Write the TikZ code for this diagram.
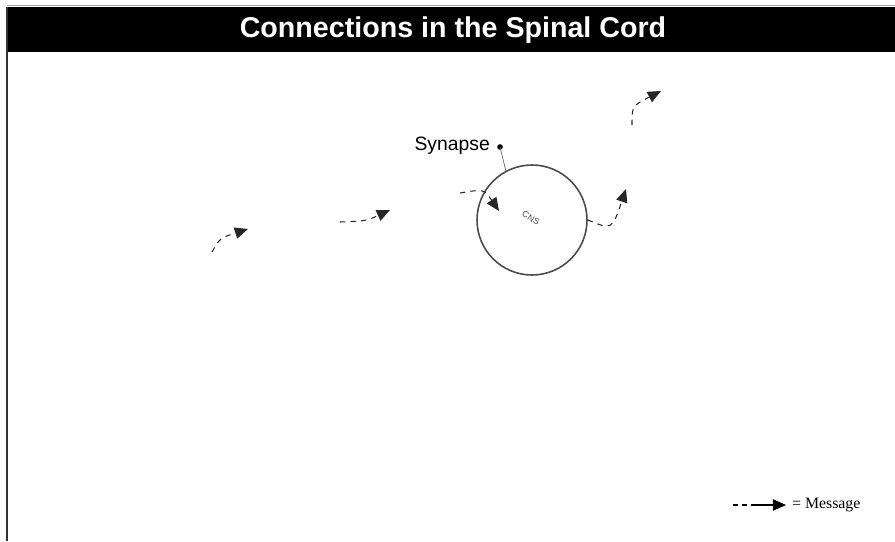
\documentclass[tikz,border=0pt]{standalone}
\usepackage{fontspec}
\setmainfont{Liberation Serif}
\setsansfont{Liberation Sans}
\usetikzlibrary{arrows.meta,positioning}
\begin{document}
\begin{tikzpicture}[x=0.02cm, y=-0.02cm, >={Triangle[length=7.5pt,width=6.5pt]},
  msg/.style={->, dashed, semithick, black!85},
  cord/.style={circle, draw=black!70, line width=0.9pt, minimum size=2.2cm, inner sep=0pt}]
\useasboundingbox (0,0) rectangle (895,541);
% Titelbalken und Rand
\fill[black] (7,7) rectangle (895,52);
\draw[black!35] (7,5.5) -- (895,5.5);
\draw[line width=0.9pt, black!80] (7,7) -- (7,541);
\node[text=white, font=\sffamily\bfseries\fontsize{16.3}{18}\selectfont] (title) at (453,30) {Connections in the Spinal Cord};
% Rueckenmark
\node[cord] (cns) at (532,220) {};
\node[font=\sffamily\fontsize{5}{6}\selectfont, text=black!70, rotate=-30] (cnslbl) at (531,218) {CNS};
\node[font=\sffamily\fontsize{11}{12}\selectfont, anchor=east] (syn) at (496,146) {Synapse};
\fill (syn.east) ++(4,1) coordinate (syndot) circle (1.6pt);
\draw[black!60, thin] (syndot) -- (cns.118);
% Botschaften
\coordinate (m1a) at (212,252); \coordinate (m1b) at (248,229);
\coordinate (m2a) at (340,222); \coordinate (m2b) at (390,210);
\coordinate (m3a) at (460,193); \coordinate (m3b) at (499,211);
\coordinate (m4b) at (626,189);
\coordinate (m5a) at (632,125); \coordinate (m5b) at (661,91);
\draw[msg] (m1a) .. controls (220,238) .. (m1b);
\draw[msg] (m2a) .. controls (366,221) .. (m2b);
\draw[msg] (m3a) .. controls (484,189) .. (m3b);
\draw[msg] (cns.east) .. controls (612,230) .. (m4b);
\draw[msg] (m5a) .. controls (632,106) .. (m5b);
% Legende
\coordinate (lega) at (733,505);
\node[font=\fontsize{9}{10}\selectfont, anchor=west] (leg) at (786,505) {= Message};
\draw[->, semithick, dash pattern=on 3pt off 2pt on 3pt off 2pt on 20pt] (lega) -- (leg.west);
\end{tikzpicture}
\end{document}
